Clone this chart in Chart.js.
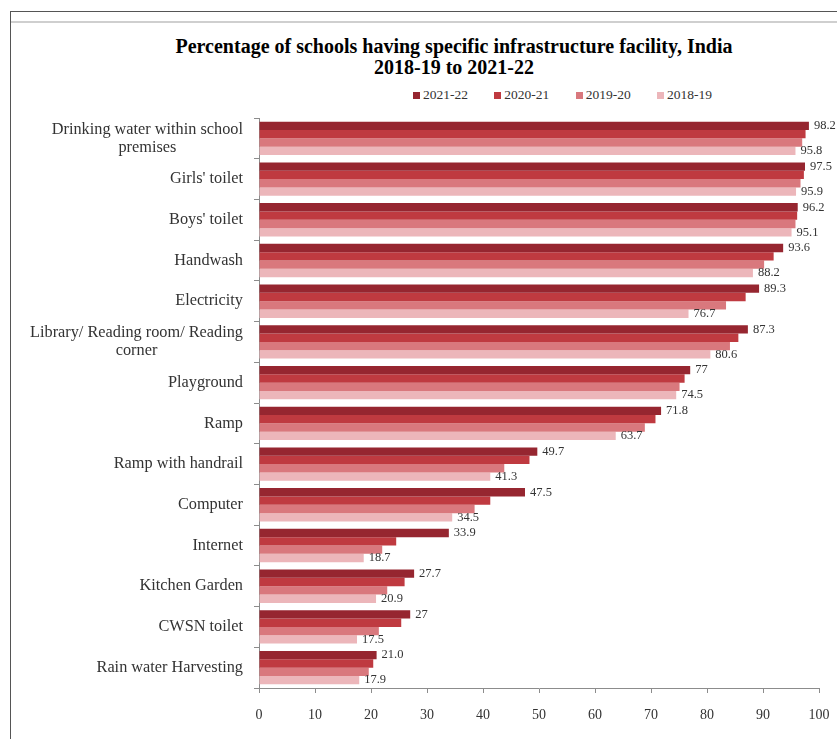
<!DOCTYPE html>
<html>
<head>
<meta charset="utf-8">
<title>School infrastructure facilities</title>
<script src="https://cdn.jsdelivr.net/npm/chart.js"></script>
<style>
  html, body { margin: 0; padding: 0; background: #fff; overflow: hidden; }
  body { width: 837px; height: 739px; position: relative; font-family: "Liberation Serif", "DejaVu Serif", serif; }
  .frame { position: absolute; left: 10px; top: 11px; width: 900px; height: 800px; border-left: 1px solid #555; border-top: 1px solid #555; }
  .frame-rule { position: absolute; left: 11px; top: 21px; width: 830px; height: 2px; background: #cfcfcf; }
  #title { position: absolute; left: 104px; top: 36px; width: 700px; text-align: center; font-weight: bold; font-size: 20px; line-height: 21px; color: #000; }
  #legend { position: absolute; left: 413px; top: 87px; width: 299px; display: flex; justify-content: space-between; font-size: 13.5px; color: #333; }
  #legend span.item { display: flex; align-items: center; }
  #legend span.box { display: inline-block; width: 7px; height: 7px; margin-right: 3px; }
  #wrap { position: absolute; left: 11px; top: 110px; }
</style>
</head>
<body>
<div class="frame"></div>
<div class="frame-rule"></div>
<div id="title">Percentage of schools having specific infrastructure facility, India<br>2018-19 to 2021-22</div>
<div id="legend"></div>
<div id="wrap"><canvas id="chart" width="826" height="629"></canvas></div>

<script>
// facilities, top to bottom (multi-line names are split the way they wrap)
const facilities = [
    ['Drinking water within school', 'premises'],
    ["Girls' toilet"],
    ["Boys' toilet"],
    ['Handwash'],
    ['Electricity'],
    ['Library/ Reading room/ Reading', 'corner'],
    ['Playground'],
    ['Ramp'],
    ['Ramp with handrail'],
    ['Computer'],
    ['Internet'],
    ['Kitchen Garden'],
    ['CWSN toilet'],
    ['Rain water Harvesting']
];

const years = ['2021-22', '2020-21', '2019-20', '2018-19'];

// percentages per year; first and last years are printed next to the bars
const pct2021_22 = ['98.2', '97.5', '96.2', '93.6', '89.3', '87.3', '77', '71.8', '49.7', '47.5', '33.9', '27.7', '27', '21.0'];
const pct2020_21 = [97.6, 97.3, 96.1, 91.9, 86.9, 85.6, 76.0, 70.8, 48.3, 41.3, 24.5, 26.0, 25.4, 20.4];
const pct2019_20 = [97.0, 96.7, 95.8, 90.2, 83.4, 84.1, 75.1, 68.9, 43.8, 38.5, 22.0, 22.9, 21.4, 19.6];
const pct2018_19 = ['95.8', '95.9', '95.1', '88.2', '76.7', '80.6', '74.5', '63.7', '41.3', '34.5', '18.7', '20.9', '17.5', '17.9'];

const xTicks = [0, 10, 20, 30, 40, 50, 60, 70, 80, 90, 100];

const colors = ['#962630', '#bf3a40', '#d9787d', '#ecb6ba'];
const SERIF = '"Liberation Serif", "DejaVu Serif", serif';

// legend
const legendEl = document.getElementById('legend');
legendEl.innerHTML = years.map((y, i) => `
    <span class="item"><span class="box" style="background:${colors[i]}"></span>${y}</span>
`).join('');

// category labels: block right-aligned, lines centred within the block
const facilityLabels = {
    id: 'facilityLabels',
    afterDraw(chart) {
        const ctx = chart.ctx;
        const yScale = chart.scales.y;
        const right = 232;
        const lineH = 18;
        ctx.save();
        ctx.font = `16.3px ${SERIF}`;
        ctx.fillStyle = '#333';
        ctx.textAlign = 'center';
        ctx.textBaseline = 'middle';
        facilities.forEach((lines, i) => {
            const yc = yScale.getPixelForValue(i);
            const w = Math.max(...lines.map(l => ctx.measureText(l).width));
            const cx = right - w / 2;
            const top = yc - (lines.length - 1) * lineH / 2;
            lines.forEach((l, k) => ctx.fillText(l, cx, top + k * lineH));
        });
        ctx.restore();
    }
};

// values printed after the first and last bar of each group
const valueLabels = {
    id: 'valueLabels',
    afterDatasetsDraw(chart) {
        const ctx = chart.ctx;
        ctx.save();
        ctx.font = `12.5px ${SERIF}`;
        ctx.fillStyle = '#333';
        ctx.textAlign = 'left';
        ctx.textBaseline = 'middle';
        [[0, pct2021_22], [3, pct2018_19]].forEach(([ds, texts]) => {
            chart.getDatasetMeta(ds).data.forEach((bar, i) => {
                ctx.fillText(texts[i], bar.x + 5, bar.y);
            });
        });
        ctx.restore();
    }
};

const seriesData = [pct2021_22.map(Number), pct2020_21, pct2019_20, pct2018_19.map(Number)];

new Chart(document.getElementById('chart'), {
    type: 'bar',
    data: {
        labels: facilities.map(f => f.join(' ')),
        datasets: years.map((y, i) => ({
            label: y,
            data: seriesData[i],
            backgroundColor: colors[i],
            borderWidth: 0,
            categoryPercentage: 0.82,
            barPercentage: 1.0
        }))
    },
    options: {
        indexAxis: 'y',
        responsive: false,
        animation: false,
        layout: { padding: { top: 8, right: 18, left: 0, bottom: 0 } },
        scales: {
            x: {
                min: 0,
                max: 100,
                afterFit: (scale) => {
                    scale.height = 51;
                    scale.paddingLeft = 0;
                    scale.paddingRight = 0;
                },
                afterBuildTicks: (scale) => { scale.ticks = xTicks.map(v => ({ value: v })); },
                grid: { drawOnChartArea: false, drawTicks: true, tickLength: 5, color: '#8c8c8c' },
                border: { color: '#8c8c8c' },
                ticks: { font: { family: SERIF, size: 14 }, color: '#333', padding: 14 }
            },
            y: {
                afterFit: (scale) => { scale.width = 248; },
                grid: { drawOnChartArea: false, drawTicks: true, tickLength: 5, color: '#8c8c8c' },
                border: { color: '#8c8c8c' },
                ticks: { display: false }
            }
        },
        plugins: {
            legend: { display: false },
            title: { display: false },
            tooltip: { enabled: false }
        }
    },
    plugins: [facilityLabels, valueLabels]
});
</script>
</body>
</html>
